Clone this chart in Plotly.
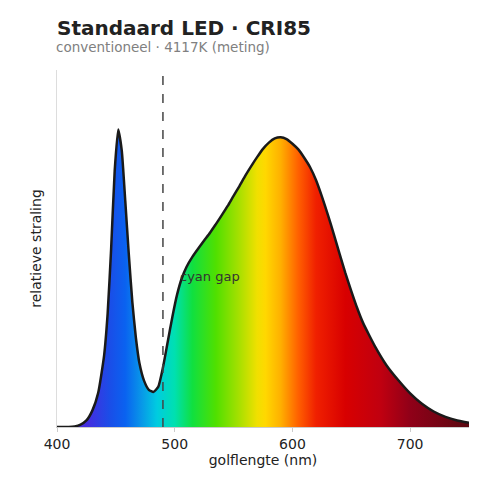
import plotly.graph_objects as go

# gemeten spectrum (genormaliseerd op blauwe piek)
golflengte = [400, 405, 410, 415, 420, 425, 430, 435, 440, 443, 446, 449, 452, 455, 458,
              461, 464, 467, 470, 474, 478, 482, 486, 490, 494, 498, 502, 506, 510, 515,
              520, 525, 530, 535, 540, 545, 550, 555, 560, 565, 570, 575, 580, 585, 590,
              595, 600, 605, 610, 615, 620, 625, 630, 635, 640, 645, 650, 655, 660, 665,
              670, 680, 690, 700, 710, 720, 730, 740, 750]
straling = [0.0, 0.0, 0.0, 0.002, 0.008, 0.022, 0.055, 0.115, 0.24, 0.38, 0.6, 0.86, 1.0, 0.93, 0.76,
            0.58, 0.42, 0.3, 0.215, 0.155, 0.125, 0.118, 0.135, 0.2, 0.285, 0.37, 0.445, 0.5, 0.538, 0.572,
            0.6, 0.627, 0.653, 0.682, 0.712, 0.743, 0.777, 0.81, 0.845, 0.877, 0.907, 0.935, 0.956, 0.97, 0.974,
            0.968, 0.952, 0.933, 0.905, 0.873, 0.83, 0.775, 0.715, 0.65, 0.583, 0.517, 0.457, 0.4, 0.35, 0.31,
            0.272, 0.207, 0.157, 0.113, 0.078, 0.052, 0.034, 0.022, 0.014]

# kleur per golflengte voor de vulling
kleur_nm = [400, 428, 445, 458, 472, 485, 500, 515, 535, 555, 570, 577, 590, 605, 620, 645, 675, 700, 750]
kleuren = ["#5a20d0", "#4030e0", "#1a4ee8", "#0a62f0", "#0898e8", "#00cce0", "#00e0b0", "#10e040",
           "#50e000", "#a8e000", "#f0e000", "#ffd800", "#ffb000", "#ff6000", "#f02000", "#d80000",
           "#c00010", "#900018", "#5a0810"]

schaal = [[(n - 400) / 350, c] for n, c in zip(kleur_nm, kleuren)]

fig = go.Figure()
fig.add_trace(go.Scatter(
    x=golflengte, y=straling, mode="lines",
    line=dict(color="#1a1a1a", width=2.5, shape="spline", smoothing=0.5),
    fill="tozeroy",
    fillgradient=dict(type="horizontal", colorscale=schaal, start=400, stop=750),
    hoverinfo="skip", showlegend=False,
))

fig.add_shape(type="line", x0=490, x1=490, y0=0, y1=1.19, xref="x", yref="y",
              line=dict(color="#444444", width=1.5, dash="dash"))

# pagina heeft 8px marge, dus figuur iets kleiner
fig.update_layout(
    width=492, height=492,
    margin=dict(l=49, r=31, t=62, b=73),
    plot_bgcolor="white", paper_bgcolor="white",
    font=dict(family="DejaVu Sans", size=13, color="#222222"),
    title=dict(text="<b>Standaard LED · CRI85</b>", x=49 / 492, xanchor="left",
               y=1 - 20 / 492, yanchor="middle", font=dict(size=20, color="#222222")),
)
fig.add_annotation(x=503, y=0.505, text="cyan gap", showarrow=False, xanchor="left",
                   font=dict(size=13, color="#333333"))
fig.add_annotation(text="conventioneel · 4117K (meting)", xref="paper", yref="paper",
                   x=0, y=1.0 + 23 / 357, xanchor="left", yanchor="middle", showarrow=False,
                   xshift=-3, font=dict(size=13.5, color="#808080"))
fig.update_xaxes(range=[400, 750], tickvals=[400, 500, 600, 700], showgrid=False, zeroline=False,
                 showline=True, linecolor="#cccccc", ticks="outside", ticklen=4, tickcolor="#cccccc",
                 tickfont=dict(size=14),
                 title=dict(text="golflengte (nm)", standoff=4, font=dict(size=14)))
fig.update_yaxes(range=[0, 1.2], showticklabels=False, showgrid=False, zeroline=False,
                 showline=True, linecolor="#dddddd", ticks="",
                 title=dict(text="relatieve straling", standoff=11, font=dict(size=14)))

fig.write_html("out.html")
